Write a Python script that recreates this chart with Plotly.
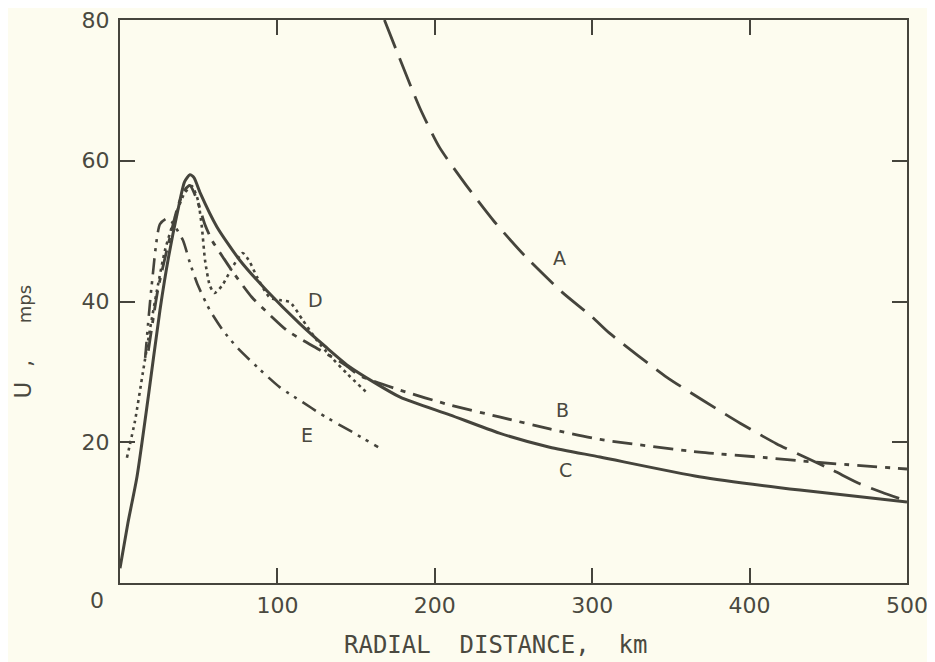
import plotly.graph_objects as go

# ---- data ----
a_r = [168, 190.5, 203, 220, 238, 258, 281, 300, 311, 347, 370, 394, 417, 436, 453, 470, 484, 498]
a_u = [80, 67.5, 61.9, 56.5, 51.3, 46.3, 41.3, 37.8, 35.5, 29.3, 26.0, 22.7, 19.8, 17.8, 16.0, 14.1, 12.9, 11.8]

b_r = [18, 24, 30.5, 37, 41, 44.4, 49, 54, 58.4, 65.4, 71.7, 83.8, 93.3, 106, 116, 127, 143, 152,
       178, 209.5, 241, 273, 305, 368, 411, 440, 500]
b_u = [33, 41.6, 48, 53.7, 55.8, 56.5, 54.4, 50.9, 48.7, 46.3, 44.2, 40.6, 38.5, 35.9, 34.5, 33.1, 31.0, 29.5,
       27.4, 25.3, 23.6, 21.9, 20.4, 18.6, 17.8, 17.2, 16.2]

c_r = [0, 5, 10.8, 18, 25.4, 31, 36.8, 41, 44.4, 47, 51, 61.6, 76, 93, 114, 131, 146,
       178, 209.5, 241, 273, 305, 368, 432, 500]
c_u = [2.1, 8.5, 15.1, 26.5, 38.8, 46.5, 53, 57, 58, 57.6, 55.4, 50.6, 45.9, 41.6, 36.9, 33.5, 30.7,
       26.4, 23.9, 21.3, 19.3, 17.9, 15.1, 13.2, 11.5]

d_r = [4.4, 9.5, 14.6, 19, 23.5, 28.6, 35, 41, 45.7, 49.5, 52, 54, 57, 60, 65, 71, 78, 82.5, 87,
       95, 101.6, 108, 116, 125, 133, 144, 158]
d_u = [17.8, 23, 30, 36, 41.6, 47.3, 52, 55.4, 56.4, 54.4, 50.6, 45.9, 42.3, 41.2, 42.3, 44.7, 46.9, 45.6, 43.5,
       40.6, 40.2, 39.9, 37.4, 34.5, 32.4, 29.8, 26.8]

e_r = [16, 20, 25.4, 30, 33, 40, 44.4, 49.5, 57, 65.4, 74.3, 89, 101.6, 116, 127, 140, 148, 164]
e_u = [32, 42, 51.0, 51.8, 51.3, 48.7, 45.5, 42.3, 38.8, 35.9, 33.5, 30.3, 27.8, 25.7, 24.1, 22.4, 21.4, 19.3]

labels = ["A", "B", "C", "D", "E"]
label_r = [279, 281, 283, 124.4, 119]
label_u = [46.2, 24.6, 16.0, 40.2, 21.0]

x_ticks = [100, 200, 300, 400, 500]
y_ticks = [20, 40, 60, 80]

INK = "#45443c"
TXT = "#4a4940"
BG = "#fdfcef"
FONT = "DejaVu Sans"

fig = go.Figure()
series = [
    (a_r, a_u, "30px,11px", 2.8),
    (b_r, b_u, "20px,8px,5px,8px", 2.8),
    (c_r, c_u, "solid", 3.0),
    (d_r, d_u, "3px,4px", 2.6),
    (e_r, e_u, "16px,7px,3px,6px,3px,7px", 2.6),
]
for name, (xs, ys, dash, w) in zip(labels, series):
    fig.add_trace(go.Scatter(x=xs, y=ys, mode="lines", name=name,
                             line=dict(color=INK, width=w, dash=dash, shape="spline", smoothing=0.6),
                             showlegend=False, hoverinfo="skip"))

for t, xr, yu in zip(labels, label_r, label_u):
    fig.add_annotation(x=xr, y=yu, text=t, showarrow=False,
                       font=dict(family=FONT, size=19, color=TXT))

# corner "0" label
fig.add_annotation(x=0, y=0, xref="x", yref="y", text="0", showarrow=False,
                   xshift=-23, yshift=-17, font=dict(family=FONT, size=22, color=TXT))

axis_common = dict(showline=True, linecolor=INK, linewidth=2, mirror="ticks",
                   ticks="inside", ticklen=15, tickwidth=1.6, tickcolor=INK,
                   showgrid=False, zeroline=False, automargin=False,
                   ticklabeloverflow="allow",
                   tickfont=dict(family=FONT, size=22, color=TXT))

fig.update_xaxes(range=[0, 500], tickvals=x_ticks, ticktext=[str(v) for v in x_ticks],
                 ticklabelstandoff=2, **axis_common)
fig.update_yaxes(range=[0, 80], tickvals=y_ticks, ticktext=[str(v) for v in y_ticks],
                 ticklabelstandoff=4, **axis_common)

fig.add_annotation(x=0.5, y=0, xref="paper", yref="paper", yshift=-62, yanchor="middle",
                   xshift=-18,
                   text="RADIAL  DISTANCE,  km", showarrow=False,
                   font=dict(family="DejaVu Sans Mono", size=24, color=TXT))
fig.add_annotation(x=0, y=0.5, xref="paper", yref="paper", xshift=-98, yshift=-40,
                   xanchor="center", yanchor="middle",
                   text="U  ,     <span style='font-size:18px'>mps</span>", textangle=-90, showarrow=False,
                   font=dict(family=FONT, size=23, color=TXT))

# the page adds an 8px body margin; size the figure so the plot area lands where the reference has it
fig.update_layout(width=927, height=654,
                  margin=dict(l=112, r=28, t=12, b=79, autoexpand=False),
                  paper_bgcolor=BG, plot_bgcolor=BG)

fig.write_html("out.html")
